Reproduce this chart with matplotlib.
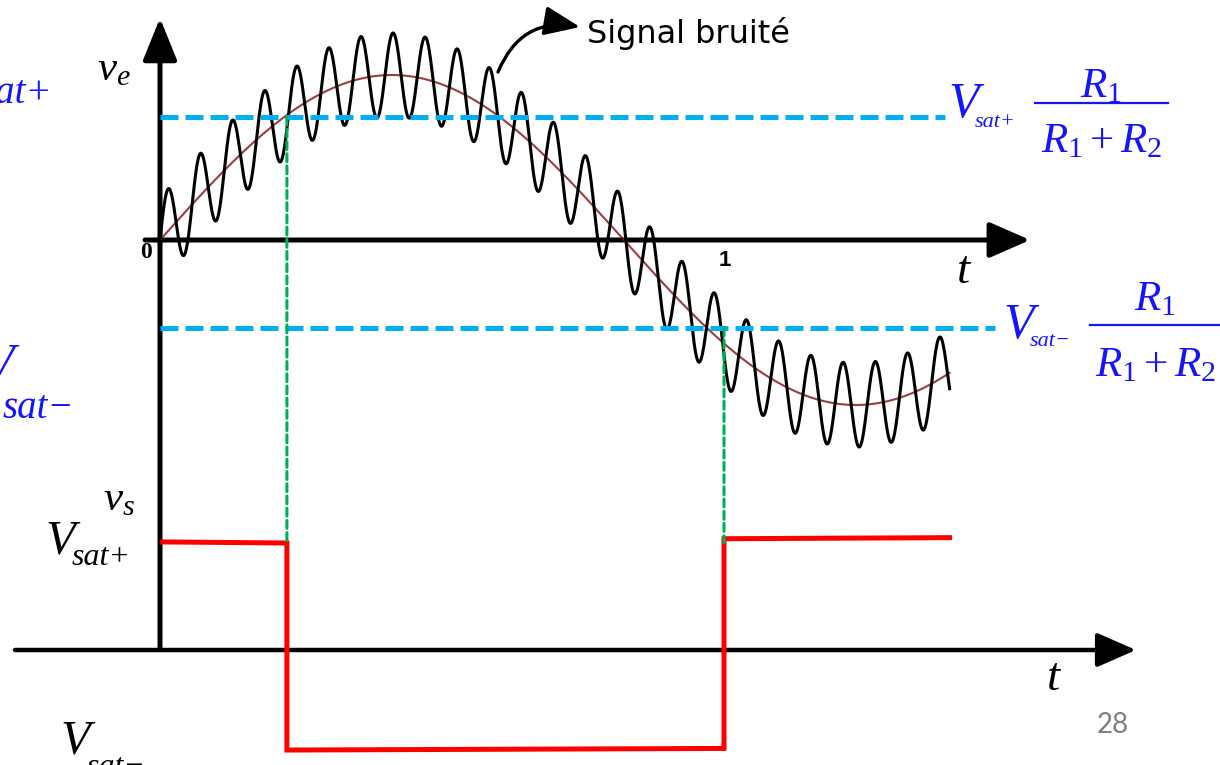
import numpy as np
import matplotlib.pyplot as plt
from matplotlib.patches import ConnectionPatch

plt.rcParams['mathtext.fontset'] = 'custom'
plt.rcParams['mathtext.rm'] = 'Liberation Serif'
plt.rcParams['mathtext.it'] = 'Liberation Serif:italic'

# Donnees (t : graduation "1" = 1)
T_SIGNAL = 1.645      # periode du signal utile
A_SIGNAL = 1.0
T_BRUIT = 0.0570      # periode du bruit
A_BRUIT = 0.255
T_FIN = 1.40

seuil_haut = 0.745    # Vsat+ R1/(R1+R2)
seuil_bas = -0.533    # Vsat- R1/(R1+R2)
fin_seuils = [1.392, 1.48]

t_bascule = [0.225, 1.0]
vs_t = [0.005, 0.225, 0.225, 1.0, 1.0, 1.40]
vs_val = [1.01, 1.0, -0.935, -0.92, 1.04, 1.05]
niveau_vert = [1.0, 1.0]

# mise en page (pixels)
W, H = 1220, 765
X0, PX_T = 160, 564
Y0_E, PX_E = 240, 165
Y0_S, PX_S = 650, 107

fig = plt.figure(figsize=(12.2, 7.65), dpi=100)


def full_axes(y0, py):
    ax = fig.add_axes([0, 0, 1, 1])
    ax.set_xlim(-X0 / PX_T, (W - X0) / PX_T)
    ax.set_ylim((y0 - H) / py, y0 / py)
    ax.axis('off')
    ax.patch.set_alpha(0)
    return ax


ax_px = fig.add_axes([0, 0, 1, 1])
ax_px.set_xlim(0, W)
ax_px.set_ylim(H, 0)
ax_px.axis('off')

ax_e = full_axes(Y0_E, PX_E)
ax_s = full_axes(Y0_S, PX_S)

# axes avec fleches
def fleche(p0, p1, hl, hw, lw):
    ax_px.annotate('', xy=p1, xytext=p0,
                   arrowprops=dict(arrowstyle='-|>,head_length=%g,head_width=%g' % (hl, hw),
                                   mutation_scale=1, lw=lw, color='black',
                                   shrinkA=0, shrinkB=0), zorder=3)

fleche((160, 648), (160, 18), 26, 10.5, 3.6)
fleche((145, 240), (1030, 240), 25, 11, 3.6)
fleche((15, 650), (1136, 650), 24, 10.5, 3.2)

# signal bruite
t = np.linspace(0, T_FIN, 3000)
v_utile = A_SIGNAL * np.sin(2 * np.pi * t / T_SIGNAL)
v_e = v_utile + A_BRUIT * np.sin(2 * np.pi * t / T_BRUIT)
ax_e.plot(t, v_utile, color='#8b1a1a', lw=1.5, alpha=0.85, zorder=4)
ax_e.plot(t, v_e, color='black', lw=2.2, zorder=5)

# seuils
for s, tf in zip([seuil_haut, seuil_bas], fin_seuils):
    ax_e.plot([0, tf], [s, s], color='#00b0f0', lw=3.6,
              linestyle=(0, (3.6, 1.4)), zorder=6)

# lignes de basculement
for tb, s, nv in zip(t_bascule, [seuil_haut, seuil_bas], niveau_vert):
    con = ConnectionPatch(xyA=(tb, s), coordsA=ax_e.transData,
                          xyB=(tb, nv), coordsB=ax_s.transData,
                          color='#00b050', lw=2.2, linestyle=(0, (2.6, 1.4)), zorder=2)
    fig.add_artist(con)

# sortie
ax_s.plot(vs_t, vs_val, color='#ff0000', lw=3.6, solid_joinstyle='miter', zorder=6)

# textes
serif = 'Liberation Serif'
ax_px.text(97, 80, r'$v_e$', fontsize=31, ha='left', va='baseline')
ax_px.text(146, 252, '0', fontsize=17, fontweight='bold', family=serif, ha='center', va='center')
ax_px.text(725, 260, '1', fontsize=16, fontweight='bold', family='Liberation Sans', ha='center', va='center')
ax_px.text(957, 283, 't', fontsize=34, style='italic', family=serif, ha='left', va='baseline')
ax_px.text(1047, 690, 't', fontsize=34, style='italic', family=serif, ha='left', va='baseline')

ax_px.text(587, 43, 'Signal bruité', fontsize=23, family='DejaVu Sans', ha='left', va='baseline')
ax_px.annotate('', xy=(580, 27), xytext=(498, 72),
               arrowprops=dict(arrowstyle='-|>,head_length=22,head_width=9', mutation_scale=1,
                               lw=2.4, color='black', shrinkA=0, shrinkB=0,
                               connectionstyle='arc3,rad=-0.4'))

bleu = '#1414ff'
# seuil haut
ax_px.text(948, 117, 'V', fontsize=36, style='italic', family=serif, color=bleu, va='baseline')
ax_px.text(975, 127, 'sat+', fontsize=16, style='italic', family=serif, color=bleu, va='baseline')
ax_px.text(1101, 97, r'$R_1$', fontsize=31, color=bleu, ha='center', va='baseline')
ax_px.plot([1035, 1168], [103, 103], color=bleu, lw=1.6)
ax_px.text(1101, 152, r'$R_1+R_2$', fontsize=31, color=bleu, ha='center', va='baseline')
# seuil bas
ax_px.text(1003, 338, 'V', fontsize=36, style='italic', family=serif, color=bleu, va='baseline')
ax_px.text(1030, 346, 'sat−', fontsize=16, style='italic', family=serif, color=bleu, va='baseline')
ax_px.text(1155, 310, r'$R_1$', fontsize=31, color=bleu, ha='center', va='baseline')
ax_px.plot([1090, 1220], [325, 325], color=bleu, lw=1.6)
ax_px.text(1155, 376, r'$R_1+R_2$', fontsize=31, color=bleu, ha='center', va='baseline')
# textes coupes a gauche
ax_px.text(52, 103, 'sat+', fontsize=28, style='italic', family=serif, color=bleu,
           ha='right', va='baseline')
ax_px.text(14, 378, 'V', fontsize=36, style='italic', family=serif, color=bleu,
           ha='right', va='baseline')
ax_px.text(3, 418, 'sat−', fontsize=28, style='italic', family=serif, color=bleu,
           ha='left', va='baseline')

# sortie
ax_px.text(103, 510, r'$v_s$', fontsize=31, ha='left', va='baseline')
ax_px.text(45, 553, 'V', fontsize=35, style='italic', family=serif, va='baseline')
ax_px.text(72, 565, 'sat+', fontsize=23, style='italic', family=serif, va='baseline')
ax_px.text(60, 753, 'V', fontsize=35, style='italic', family=serif, va='baseline')
ax_px.text(87, 775, 'sat−', fontsize=23, style='italic', family=serif, va='baseline')

ax_px.text(1113, 733, '28', fontsize=20, family='Lato', color='#7f7f7f', ha='center', va='baseline')

fig.savefig('out.png', dpi=100)
